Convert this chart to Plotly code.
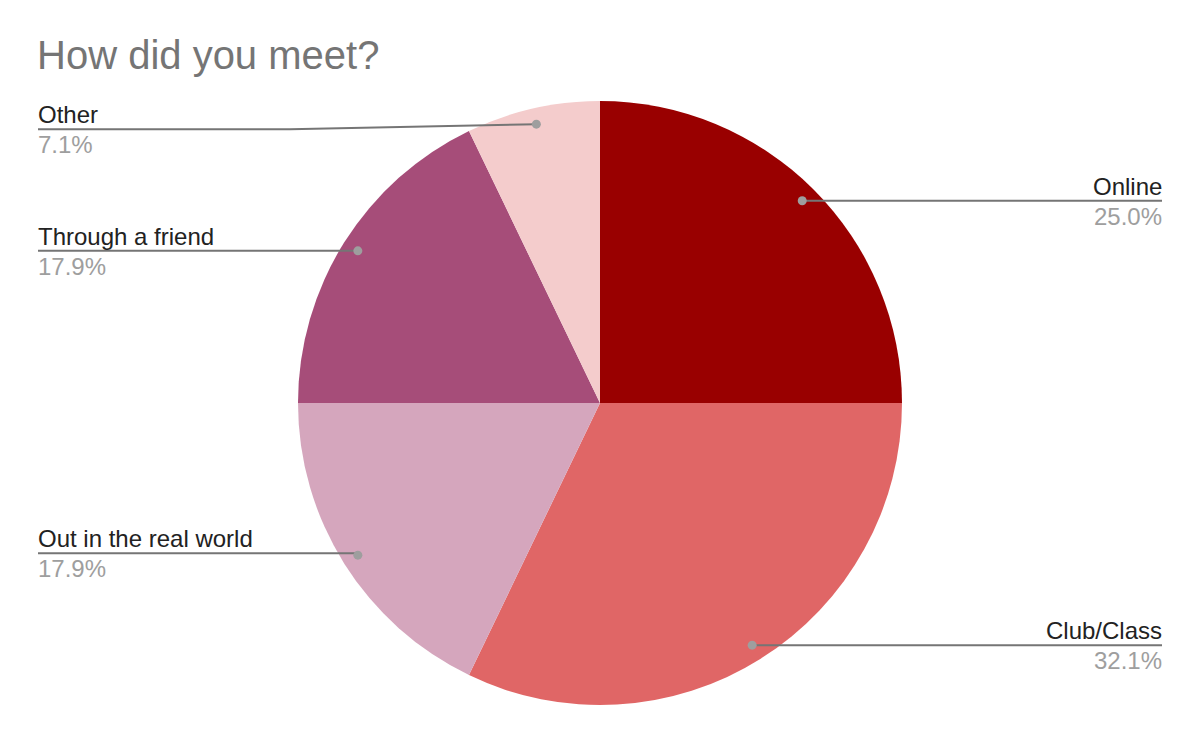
import math
import plotly.graph_objects as go

# ---- data ----
categories = ["Online", "Club/Class", "Out in the real world", "Through a friend", "Other"]
counts = [7, 9, 5, 5, 2]
colors = ["#990000", "#e06666", "#d5a6bd", "#a64d79", "#f4cccc"]
title_text = "How did you meet?"

# ---- layout constants (pixels) ----
W, H = 1200, 742
M_L, M_R, M_T, M_B = 0, 0, 101, 37
plot_w = W - M_L - M_R
plot_h = H - M_T - M_B
R = min(plot_w, plot_h) / 2
CX, CY = M_L + plot_w / 2, M_T + plot_h / 2
DOT_R = R * 0.947
LEFT_X, RIGHT_X = 38, 1162
label_line_shift = {"Other": 5, "Out in the real world": -2}
label_bend_x = {"Other": 290}
FONT = "Liberation Sans, Arial, sans-serif"


def px(x):
    return (x - M_L) / plot_w


def py(y):
    return (H - M_B - y) / plot_h


fig = go.Figure()
fig.add_trace(go.Pie(
    labels=categories, values=counts, sort=False, direction="clockwise",
    rotation=0, marker=dict(colors=colors, line=dict(width=0)),
    textinfo="none", hoverinfo="label+value+percent", showlegend=False,
    domain=dict(x=[0, 1], y=[0, 1]),
))

total = sum(counts)
shapes, annotations = [], []
cum = 0
for name, v in zip(categories, counts):
    mid = 2 * math.pi * (cum + v / 2) / total
    cum += v
    dx = DOT_R * math.sin(mid)
    dy = -DOT_R * math.cos(mid)
    x0, y0 = CX + dx, CY + dy
    pct = f"{100 * v / total:.1f}%"
    right = dx > 0
    ly = y0 + label_line_shift.get(name, 0)
    end_x = RIGHT_X if right else LEFT_X
    if name in label_bend_x:
        path = f"M {px(end_x)},{py(ly)} L {px(label_bend_x[name])},{py(ly)} L {px(x0)},{py(y0)}"
    else:
        path = f"M {px(end_x)},{py(ly)} L {px(x0)},{py(ly)} L {px(x0)},{py(y0)}"
    shapes.append(dict(type="path", xref="paper", yref="paper", path=path,
                       line=dict(color="#757575", width=2)))
    shapes.append(dict(type="circle", xref="paper", yref="paper",
                       xsizemode="pixel", ysizemode="pixel",
                       xanchor=px(x0), yanchor=py(y0),
                       x0=-4.5, x1=4.5, y0=-4.5, y1=4.5,
                       fillcolor="#9e9e9e", line=dict(width=0)))
    anchor = "right" if right else "left"
    xs = 2 if right else -2
    annotations.append(dict(xref="paper", yref="paper", x=px(end_x), y=py(ly),
                            xanchor=anchor, yanchor="bottom", text=name,
                            showarrow=False, yshift=-1, xshift=xs,
                            font=dict(family=FONT, size=24, color="#222222")))
    annotations.append(dict(xref="paper", yref="paper", x=px(end_x), y=py(ly),
                            xanchor=anchor, yanchor="top", text=pct,
                            showarrow=False, yshift=0, xshift=xs,
                            font=dict(family=FONT, size=24, color="#9e9e9e")))

annotations.append(dict(xref="paper", yref="paper", x=px(35), y=py(55),
                        xanchor="left", yanchor="middle", text=title_text,
                        showarrow=False,
                        font=dict(family=FONT, size=40, color="#757575")))

fig.update_layout(
    width=W, height=H,
    margin=dict(l=M_L, r=M_R, t=M_T, b=M_B),
    paper_bgcolor="white", plot_bgcolor="white",
    shapes=shapes, annotations=annotations,
)

fig.write_html("out.html", config={"displayModeBar": False},
               post_script="document.body.style.margin='0';")
